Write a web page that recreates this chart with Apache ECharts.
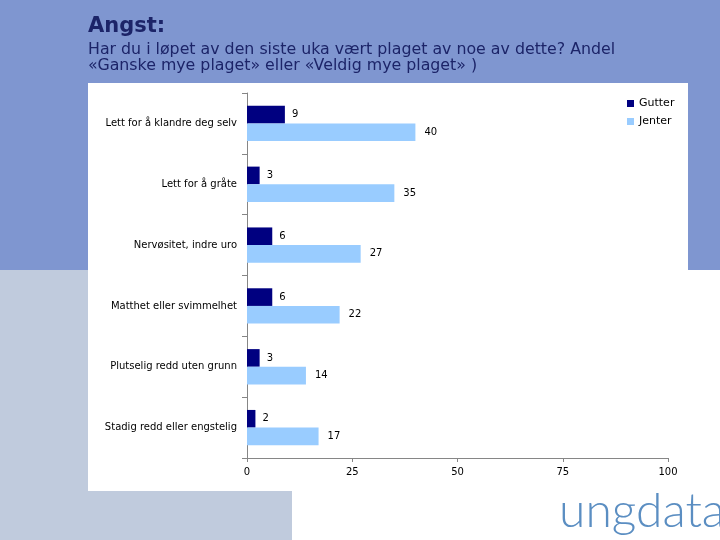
<!DOCTYPE html>
<html>
<head>
<meta charset="utf-8">
<script src="https://cdn.jsdelivr.net/npm/echarts@6/dist/echarts.min.js"></script>
<style>
html,body{margin:0;padding:0;width:720px;height:540px;overflow:hidden;background:#ffffff;}
#chart{position:absolute;left:0;top:0;width:720px;height:540px;}
</style>
</head>
<body>
<div id="chart"></div>
<script>
const categories = [
  "Lett for å klandre deg selv",
  "Lett for å gråte",
  "Nervøsitet, indre uro",
  "Matthet eller svimmelhet",
  "Plutselig redd uten grunn",
  "Stadig redd eller engstelig"
];
const gutter = [9, 3, 6, 6, 3, 2];
const jenter = [40, 35, 27, 22, 14, 17];
const xTicks = [0, 25, 50, 75, 100];

const chart = echarts.init(document.getElementById('chart'), null, {renderer: 'canvas'});
const font = "Tahoma, 'DejaVu Sans', sans-serif";
const option = {
  animation: false,
  backgroundColor: 'transparent',
  graphic: [
    {type: 'rect', z: -10, shape: {x: 0, y: 0, width: 720, height: 270}, style: {fill: '#7f96d0'}},
    {type: 'rect', z: -10, shape: {x: 0, y: 270, width: 292, height: 270}, style: {fill: '#c0cbdd'}},
    {type: 'rect', z: -9, shape: {x: 88, y: 83, width: 600, height: 408}, style: {fill: '#ffffff'}},
    {type: 'text', z: 5, left: 88, top: 16, style: {text: 'Angst:', fill: '#1c2468', font: "bold 21px 'DejaVu Sans', sans-serif"}},
    {type: 'text', z: 5, left: 88, top: 42, style: {text: 'Har du i løpet av den siste uka vært plaget av noe av dette? Andel\n«Ganske mye plaget» eller «Veldig mye plaget» )', fill: '#1c2468', font: "15.8px 'DejaVu Sans', sans-serif", lineHeight: 16}},
    {type: 'text', z: 5, left: 559, top: 488, style: {text: 'ungdata', fill: '#5b8ec2', font: "300 48px Lato, 'Open Sans', sans-serif"}}
  ],
  legend: {
    orient: 'vertical',
    left: 622,
    top: 93,
    itemWidth: 7,
    itemHeight: 7,
    itemGap: 7,
    icon: 'rect',
    textStyle: {fontFamily: font, fontSize: 11, color: '#000'},
    data: ['Gutter', 'Jenter']
  },
  grid: {left: 247, right: 52, top: 93, bottom: 82, containLabel: false},
  xAxis: {
    type: 'value',
    min: 0, max: 100, interval: 25,
    axisLine: {show: true, lineStyle: {color: '#868686'}},
    axisTick: {show: true, length: 4, lineStyle: {color: '#868686'}},
    splitLine: {show: false},
    axisLabel: {fontFamily: font, fontSize: 10, color: '#000', margin: 9,
      formatter: v => xTicks.includes(v) ? String(v) : ''}
  },
  yAxis: {
    type: 'category',
    inverse: true,
    data: categories,
    axisLine: {show: true, lineStyle: {color: '#868686'}},
    axisTick: {show: true, length: 5, lineStyle: {color: '#868686'}},
    axisLabel: {fontFamily: font, fontSize: 10, color: '#000', margin: 10}
  },
  series: [
    {name: 'Gutter', type: 'bar', data: gutter, barGap: '0%', barCategoryGap: '42%',
     itemStyle: {color: '#000080'},
     label: {show: true, position: 'right', distance: 7, fontFamily: font, fontSize: 10, color: '#000'}},
    {name: 'Jenter', type: 'bar', data: jenter, barGap: '0%', barCategoryGap: '42%',
     itemStyle: {color: '#99ccff'},
     label: {show: true, position: 'right', distance: 9, fontFamily: font, fontSize: 10, color: '#000'}}
  ]
};
chart.setOption(option);
</script>
</body>
</html>
